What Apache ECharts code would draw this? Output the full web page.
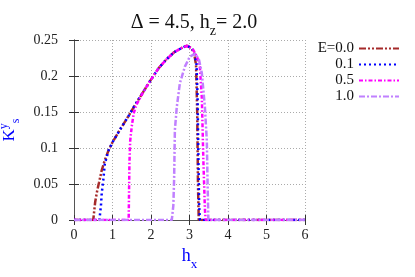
<!DOCTYPE html>
<html><head><meta charset="utf-8">
<script src="https://cdn.jsdelivr.net/npm/echarts@6/dist/echarts.min.js"></script>
<style>html,body{margin:0;padding:0;background:#fff}#c{width:415px;height:277px}</style>
</head><body><div id="c"></div>
<script>
var xTicks = [0, 1, 2, 3, 4, 5, 6];
var yTicks = [0, 0.05, 0.1, 0.15, 0.2, 0.25];
var legendNames = ['E=0.0', '0.1', '0.5', '1.0'];

var hx00 = [0, 0.5, 0.55, 0.6, 0.65, 0.72, 0.8, 0.9, 1.0, 1.2, 1.4, 1.6, 1.8, 2.0, 2.2, 2.4, 2.6, 2.8, 2.93, 3.05, 3.12, 3.17, 3.2, 3.22, 3.24, 6];
var K00  = [0, 0, 0.025, 0.040, 0.052, 0.069, 0.083, 0.097, 0.108, 0.126, 0.143, 0.161, 0.178, 0.195, 0.211, 0.223, 0.233, 0.239, 0.242, 0.239, 0.232, 0.215, 0.15, 0.05, 0, 0];

var hx01 = [0, 0.66, 0.68, 0.70, 0.72, 0.76, 0.80, 0.9, 1.0, 1.2, 1.4, 1.6, 1.8, 2.0, 2.2, 2.4, 2.6, 2.8, 2.93, 3.05, 3.12, 3.18, 3.21, 3.23, 3.25, 3.27, 6];
var K01  = [0, 0, 0.010, 0.020, 0.037, 0.055, 0.078, 0.097, 0.108, 0.126, 0.143, 0.161, 0.178, 0.195, 0.211, 0.223, 0.233, 0.239, 0.242, 0.239, 0.233, 0.218, 0.17, 0.09, 0.02, 0, 0];

var hx05 = [0, 1.42, 1.43, 1.44, 1.46, 1.5, 1.55, 1.62, 1.7, 1.8, 2.0, 2.2, 2.4, 2.6, 2.8, 2.95, 3.1, 3.2, 3.27, 3.32, 3.36, 3.4, 3.42, 6];
var K05  = [0, 0, 0.040, 0.080, 0.110, 0.130, 0.148, 0.160, 0.168, 0.178, 0.195, 0.211, 0.223, 0.233, 0.239, 0.242, 0.236, 0.226, 0.212, 0.170, 0.083, 0.015, 0, 0];

var hx10 = [0, 2.54, 2.58, 2.6, 2.62, 2.67, 2.75, 2.88, 3.01, 3.15, 3.25, 3.32, 3.4, 3.45, 3.47, 3.49, 6];
var K10  = [0, 0, 0.020, 0.056, 0.125, 0.157, 0.190, 0.213, 0.227, 0.231, 0.222, 0.204, 0.157, 0.110, 0.050, 0, 0];

function pairs(xs, ys) { return xs.map(function (x, i) { return [x, ys[i]]; }); }

var serif = 'Liberation Serif';
var chart = echarts.init(document.getElementById('c'), null, {renderer: 'canvas'});

function mkSeries(name, xs, ys, color, dash) {
  return {
    name: name, type: 'line', data: pairs(xs, ys), symbol: 'none', showSymbol: false, smooth: false,
    xAxisIndex: 0, yAxisIndex: 0,
    lineStyle: {color: color, width: 2.5, type: dash},
    itemStyle: {color: color},
    animation: false
  };
}

var axisLineStyle = {color: '#555', width: 1};
chart.setOption({
  animation: false,
  title: {
    text: 'Δ = 4.5, h{s|z}= 2.0',
    left: 189, top: 3, textAlign: 'center',
    textStyle: {fontFamily: serif, fontSize: 20, fontWeight: 'normal', color: '#111',
      rich: {s: {fontFamily: serif, fontSize: 14, color: '#111', verticalAlign: 'bottom', lineHeight: 30}}}
  },
  grid: {left: 74, right: 110, top: 40, bottom: 57, containLabel: false, outerBoundsMode: 'none'},
  legend: {
    orient: 'vertical', right: 15, top: 41, align: 'right', padding: 0,
    itemWidth: 40, itemHeight: 14, itemGap: 1,
    data: legendNames,
    itemStyle: {opacity: 0},
    textStyle: {fontFamily: serif, fontSize: 15, color: '#111', lineHeight: 14}
  },
  xAxis: [{
    type: 'value', min: xTicks[0], max: xTicks[xTicks.length - 1], interval: 1,
    name: 'h{s|x}', nameLocation: 'middle', nameGap: 20,
    nameTextStyle: {fontFamily: serif, fontSize: 18, color: '#0000ff',
      rich: {s: {fontFamily: serif, fontSize: 13, color: '#0000ff', verticalAlign: 'bottom', lineHeight: 30}}},
    axisLine: {show: true, lineStyle: axisLineStyle},
    axisTick: {show: true, inside: true, length: 5, lineStyle: {color: '#333'}},
    axisLabel: {fontFamily: serif, fontSize: 14, color: '#222', margin: 8},
    splitLine: {show: true, lineStyle: {color: '#aaa', width: 1, type: [1, 2]}}
  }, {
    type: 'value', position: 'top', min: xTicks[0], max: xTicks[xTicks.length - 1], interval: 1,
    axisLine: {show: true, lineStyle: axisLineStyle},
    axisTick: {show: true, inside: true, length: 5, lineStyle: {color: '#333'}},
    axisLabel: {show: false}, splitLine: {show: false}
  }],
  yAxis: [{
    type: 'value', min: yTicks[0], max: yTicks[yTicks.length - 1], interval: 0.05,
    name: 'K{p|y}{s|s}', nameLocation: 'middle', nameGap: 52, nameRotate: 90,
    nameTextStyle: {fontFamily: serif, fontSize: 17, color: '#0000ff', lineHeight: 24,
      rich: {
        p: {fontFamily: serif, fontSize: 12, color: '#0000ff', verticalAlign: 'top', lineHeight: 24},
        s: {fontFamily: serif, fontSize: 12, color: '#0000ff', verticalAlign: 'bottom', lineHeight: 24}
      }},
    axisLine: {show: true, lineStyle: axisLineStyle},
    axisTick: {show: true, inside: true, length: 5, lineStyle: {color: '#333'}},
    axisLabel: {fontFamily: serif, fontSize: 14, color: '#222', margin: 16},
    splitLine: {show: true, lineStyle: {color: '#aaa', width: 1, type: [1, 2]}}
  }, {
    type: 'value', position: 'right', min: yTicks[0], max: yTicks[yTicks.length - 1], interval: 0.05,
    axisLine: {show: true, lineStyle: axisLineStyle},
    axisTick: {show: true, inside: true, length: 5, lineStyle: {color: '#333'}},
    axisLabel: {show: false}, splitLine: {show: false}
  }],
  series: [
    mkSeries(legendNames[0], hx00, K00, '#a52a2a', [7, 2, 2, 2, 2, 2]),
    mkSeries(legendNames[1], hx01, K01, '#0000ff', [2, 3]),
    mkSeries(legendNames[2], hx05, K05, '#ff00ff', [4, 2, 1.5, 2]),
    mkSeries(legendNames[3], hx10, K10, '#c080ff', [6, 2, 2, 2])
  ]
});
</script></body></html>
